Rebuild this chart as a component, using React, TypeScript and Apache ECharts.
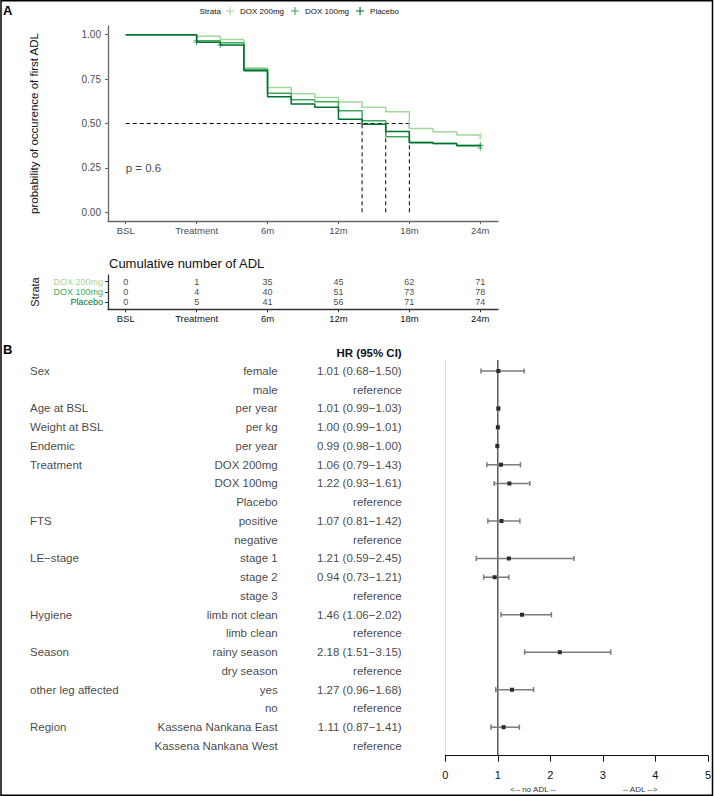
import React, { useEffect, useRef } from "react";
import * as echarts from "echarts";

// ---------- Panel A: Kaplan-Meier style curves ----------
const kmTimes = [-6, 0, 2, 4, 6, 8, 10, 12, 14, 16, 18, 20, 22, 24];
const kmDox200 = [1, 0.991, 0.973, 0.812, 0.702, 0.668, 0.647, 0.621, 0.591, 0.566, 0.472, 0.454, 0.435, 0.435];
const kmDox100 = [1, 0.966, 0.955, 0.805, 0.670, 0.634, 0.622, 0.572, 0.516, 0.426, 0.395, 0.388, 0.378, 0.378];
const kmPlacebo = [1, 0.958, 0.942, 0.797, 0.651, 0.610, 0.591, 0.524, 0.496, 0.455, 0.392, 0.387, 0.375, 0.375];
const censorDox200 = [[24, 0.435], [24, 0.42]];
const censorDox100 = [[0, 0.966], [24, 0.378], [24, 0.362]];
const censorPlacebo = [[0, 0.958], [2, 0.942], [24, 0.375]];
const strataNames = ["DOX 200mg", "DOX 100mg", "Placebo"];
const strataColors = ["#a1d99b", "#41ab5d", "#00702e"];
const xTickValues = [-6, 0, 6, 12, 18, 24];
const xTickLabels = ["BSL", "Treatment", "6m", "12m", "18m", "24m"];
const yTickValues = [0, 0.25, 0.5, 0.75, 1];
const medianTimes = [18, 16, 14];
const medianLevel = 0.5;
const pValueText = "p = 0.6";

// ---------- Risk table ----------
const cumAdlDox200 = [0, 1, 35, 45, 62, 71];
const cumAdlDox100 = [0, 4, 40, 51, 73, 78];
const cumAdlPlacebo = [0, 5, 41, 56, 71, 74];

// ---------- Panel B: forest plot ----------
const groupLabels = ["Sex", "", "Age at BSL", "Weight at BSL", "Endemic", "Treatment", "", "", "FTS", "", "LE\u2212stage", "", "", "Hygiene", "", "Season", "", "other leg affected", "", "Region", ""];
const levelLabels = ["female", "male", "per year", "per kg", "per year", "DOX 200mg", "DOX 100mg", "Placebo", "positive", "negative", "stage 1", "stage 2", "stage 3", "limb not clean", "limb clean", "rainy season", "dry season", "yes", "no", "Kassena Nankana East", "Kassena Nankana West"];
const hrValues = [1.01, null, 1.01, 1.00, 0.99, 1.06, 1.22, null, 1.07, null, 1.21, 0.94, null, 1.46, null, 2.18, null, 1.27, null, 1.11, null];
const ciLow = [0.68, null, 0.99, 0.99, 0.98, 0.79, 0.93, null, 0.81, null, 0.59, 0.73, null, 1.06, null, 1.51, null, 0.96, null, 0.87, null];
const ciHigh = [1.50, null, 1.03, 1.01, 1.00, 1.43, 1.61, null, 1.42, null, 2.45, 1.21, null, 2.02, null, 3.15, null, 1.68, null, 1.41, null];
const forestTicks = [0, 1, 2, 3, 4, 5];
const referenceHR = 1;

const FONT = "'Liberation Sans', Arial, Helvetica, sans-serif";
const TXT = "#111111";
const AX = "#666666";

export default function App() {
  const ref = useRef<HTMLDivElement>(null);
  useEffect(() => {
    if (!ref.current) return;
    const chart = echarts.init(ref.current, undefined, { renderer: "svg" });
    const kmSeries = [kmDox200, kmDox100, kmPlacebo];
    const censors = [censorDox200, censorDox100, censorPlacebo];
    const cum = [cumAdlDox200, cumAdlDox100, cumAdlPlacebo];
    const plusIcon = "path://M0,4.3H4.3V0H5.7V4.3H10V5.7H5.7V10H4.3V5.7H0Z";
    const fYMin = -0.587;
    const fYMax = 20.52;

    const xLab = (v: number) => {
      const i = xTickValues.indexOf(v);
      return i >= 0 ? xTickLabels[i] : "";
    };
    const fmtCI = (i: number) =>
      hrValues[i] == null
        ? "reference"
        : `${(hrValues[i] as number).toFixed(2)} (${(ciLow[i] as number).toFixed(2)}\u2212${(ciHigh[i] as number).toFixed(2)})`;

    const series: any[] = [];
    kmSeries.forEach((vals, k) => {
      series.push({
        name: strataNames[k],
        type: "line",
        xAxisIndex: 0,
        yAxisIndex: 0,
        step: "end",
        showSymbol: false,
        symbol: "none",
        data: kmTimes.map((t, j) => [t, vals[j]]),
        lineStyle: { color: strataColors[k], width: 1.5 },
        itemStyle: { color: strataColors[k] },
        silent: true,
        z: 3 + k,
      });
      series.push({
        name: "censor " + strataNames[k],
        type: "scatter",
        xAxisIndex: 0,
        yAxisIndex: 0,
        symbol: plusIcon,
        symbolSize: 6,
        data: censors[k],
        itemStyle: { color: strataColors[k] },
        silent: true,
        z: 3 + k,
      });
    });
    const maxMedian = Math.max(...medianTimes);
    series.push({
      type: "line", xAxisIndex: 0, yAxisIndex: 0, showSymbol: false, symbol: "none", silent: true,
      data: [[xTickValues[0], medianLevel], [maxMedian, medianLevel]],
      lineStyle: { color: "#000", width: 1, type: [4, 3] }, z: 2,
    });
    medianTimes.forEach((t) => {
      series.push({
        type: "line", xAxisIndex: 0, yAxisIndex: 0, showSymbol: false, symbol: "none", silent: true,
        data: [[t, 0], [t, medianLevel]],
        lineStyle: { color: "#000", width: 1, type: [4, 3] }, z: 2,
      });
    });
    series.push({
      type: "scatter", xAxisIndex: 0, yAxisIndex: 0, symbolSize: 0, silent: true,
      data: [[xTickValues[0], 0.25]],
      label: { show: true, position: "right", distance: 0, formatter: pValueText, fontSize: 11.5, color: TXT, fontFamily: FONT },
    });

    // risk table numbers
    cum.forEach((vals, k) => {
      series.push({
        type: "scatter", xAxisIndex: 1, yAxisIndex: 1, symbolSize: 0, silent: true,
        data: xTickValues.map((t, j) => [t, 3 - k, vals[j]]),
        label: { show: true, position: "inside", formatter: (p: any) => String(p.value[2]), fontSize: 9, lineHeight: 9, color: TXT, fontFamily: FONT },
      });
    });

    // forest plot
    series.push({
      type: "line", xAxisIndex: 2, yAxisIndex: 2, showSymbol: false, symbol: "none", silent: true,
      data: [[referenceHR, fYMin], [referenceHR, fYMax]],
      lineStyle: { color: "#333", width: 1.2 }, z: 2,
    });
    const ciData: any[] = [];
    hrValues.forEach((h, i) => {
      if (h != null) ciData.push([ciLow[i], ciHigh[i], h, i]);
    });
    series.push({
      type: "custom", xAxisIndex: 2, yAxisIndex: 2, silent: true, clip: false, z: 5,
      data: ciData,
      encode: { x: [0, 1, 2], y: 3 },
      renderItem: (params: any, api: any) => {
        const y = api.coord([0, api.value(3)])[1];
        const xl = api.coord([api.value(0), 0])[0];
        const xh = api.coord([api.value(1), 0])[0];
        const xm = api.coord([api.value(2), 0])[0];
        const st = { stroke: "#7a7a7a", lineWidth: 1.5 };
        return {
          type: "group",
          children: [
            { type: "line", shape: { x1: xl, y1: y, x2: xh, y2: y }, style: st },
            { type: "line", shape: { x1: xl, y1: y - 2.6, x2: xl, y2: y + 2.6 }, style: st },
            { type: "line", shape: { x1: xh, y1: y - 2.6, x2: xh, y2: y + 2.6 }, style: st },
            { type: "rect", shape: { x: xm - 2, y: y - 2, width: 4, height: 4 }, style: { fill: "#2b2b2b" } },
          ],
        };
      },
    });
    const textSeries = (x: number, texts: string[], pos: string) => ({
      type: "scatter", xAxisIndex: 3, yAxisIndex: 3, symbolSize: 0, silent: true,
      data: texts.map((t, i) => [x, i, t]).filter((d) => d[2] !== ""),
      label: { show: true, position: pos, distance: 0, formatter: (p: any) => p.value[2], fontSize: 11.5, color: TXT, fontFamily: FONT },
    });
    series.push(textSeries(30, groupLabels, "right"));
    series.push(textSeries(277.7, levelLabels, "left"));
    series.push(textSeries(401.7, hrValues.map((_, i) => fmtCI(i)), "left"));

    const rich: any = {};
    strataNames.forEach((n, k) => {
      rich["s" + k] = { color: strataColors[k], fontSize: 9, lineHeight: 9, fontFamily: FONT };
    });

    const option: any = {
      animation: false,
      textStyle: { fontFamily: FONT },
      legend: {
        data: strataNames.map((n) => ({ name: n, icon: plusIcon })),
        left: 226, top: 7, itemWidth: 10, itemHeight: 8, itemGap: 7, padding: 0,
        textStyle: { fontSize: 8, color: TXT, fontFamily: FONT },
        selectedMode: false,
      },
      grid: [
        { left: 108, top: 25.8, width: 390, height: 195.4 },
        { left: 108, top: 275, width: 390, height: 34.3 },
        { left: 445.3, top: 360, width: 263.5, height: 395.7 },
        { left: 0, top: 360, width: 714, height: 395.7 },
      ],
      xAxis: [
        {
          gridIndex: 0, type: "value", min: -7.5, max: 25.5, splitLine: { show: false },
          axisLine: { onZero: false, lineStyle: { color: AX, width: 1.3 } },
          axisTick: { customValues: xTickValues, length: 3, lineStyle: { color: AX } },
          axisLabel: { customValues: xTickValues, formatter: xLab, fontSize: 9.5, color: "#4d4d4d", margin: 4, fontFamily: FONT },
        },
        {
          gridIndex: 1, type: "value", min: -7.5, max: 25.5, splitLine: { show: false },
          axisLine: { onZero: false, lineStyle: { color: "#333", width: 1.3 } },
          axisTick: { customValues: xTickValues, length: 3, lineStyle: { color: "#333" } },
          axisLabel: { customValues: xTickValues, formatter: xLab, fontSize: 9.5, color: TXT, margin: 4, fontFamily: FONT },
        },
        {
          gridIndex: 2, type: "value", min: forestTicks[0], max: forestTicks[forestTicks.length - 1], interval: 1, splitLine: { show: false },
          axisLine: { onZero: false, lineStyle: { color: TXT, width: 1 } },
          axisTick: { length: 6, lineStyle: { color: TXT } },
          axisLabel: { fontSize: 11, color: TXT, margin: 14, fontFamily: FONT },
        },
        { gridIndex: 3, type: "value", min: 0, max: 714, show: false },
      ],
      yAxis: [
        {
          gridIndex: 0, type: "value", min: -0.05, max: 1.05, splitLine: { show: false },
          axisLine: { show: true, onZero: false, lineStyle: { color: AX, width: 1.3 } },
          axisTick: { show: true, customValues: yTickValues, length: 3, lineStyle: { color: AX } },
          axisLabel: { customValues: yTickValues, formatter: (v: number) => v.toFixed(2), fontSize: 10, color: "#4d4d4d", margin: 7, fontFamily: FONT },
        },
        {
          gridIndex: 1, type: "value", min: 0.32, max: 3.65, splitLine: { show: false },
          axisLine: { show: true, onZero: false, lineStyle: { color: "#333", width: 1.3 } },
          axisTick: { show: true, customValues: [1, 2, 3], length: 3, lineStyle: { color: "#333" } },
          axisLabel: {
            customValues: [1, 2, 3], margin: 5, fontSize: 9, lineHeight: 9, rich,
            formatter: (v: number) => {
              const k = 3 - Math.round(v);
              return k >= 0 && k < 3 ? `{s${k}|${strataNames[k]}}` : "";
            },
          },
        },
        {
          gridIndex: 2, type: "value", min: fYMin, max: fYMax, inverse: true, splitLine: { show: false },
          axisLine: { show: true, onZero: false, lineStyle: { color: "#dcdcdc", width: 1 } },
          axisTick: { show: false }, axisLabel: { show: false },
        },
        { gridIndex: 3, type: "value", min: fYMin, max: fYMax, inverse: true, show: false },
      ],
      graphic: [
        { type: "rect", shape: { x: 1, y: 0.75, width: 711.5, height: 794.5 }, style: { fill: "none", stroke: "#000", lineWidth: 1.5 }, silent: true },
        { type: "text", x: 3, y: 10, style: { text: "A", fontSize: 13, fontWeight: "bold", fill: "#000", verticalAlign: "middle", align: "left", fontFamily: FONT } },
        { type: "text", x: 3, y: 349, style: { text: "B", fontSize: 13, fontWeight: "bold", fill: "#000", verticalAlign: "middle", align: "left", fontFamily: FONT } },
        { type: "text", x: 199.5, y: 11.8, style: { text: "Strata", fontSize: 8, fill: TXT, verticalAlign: "middle", align: "left", fontFamily: FONT } },
        { type: "text", x: 34, y: 123.5, rotation: Math.PI / 2, style: { text: "probability of occurence of first ADL", fontSize: 11.5, fill: TXT, verticalAlign: "middle", align: "center", fontFamily: FONT } },
        { type: "text", x: 109, y: 263, style: { text: "Cumulative number of ADL", fontSize: 13, fill: TXT, verticalAlign: "middle", align: "left", fontFamily: FONT } },
        { type: "text", x: 35, y: 292, rotation: Math.PI / 2, style: { text: "Strata", fontSize: 11, fill: TXT, verticalAlign: "middle", align: "center", fontFamily: FONT } },
        { type: "text", x: 401.7, y: 353, style: { text: "HR (95% CI)", fontSize: 11.5, fontWeight: "bold", fill: TXT, verticalAlign: "middle", align: "right", fontFamily: FONT } },
        { type: "text", x: 533, y: 789, style: { text: "<-- no ADL --", fontSize: 8, fill: "#333", verticalAlign: "middle", align: "center", fontFamily: FONT } },
        { type: "text", x: 640, y: 789, style: { text: "-- ADL -->", fontSize: 8, fill: "#333", verticalAlign: "middle", align: "center", fontFamily: FONT } },
      ],
      series,
    };
    chart.setOption(option);
    return () => chart.dispose();
  }, []);
  return (
    <div
      ref={ref}
      style={{ position: "absolute", left: 0, top: 0, width: 714, height: 796, background: "#fff" }}
    />
  );
}
